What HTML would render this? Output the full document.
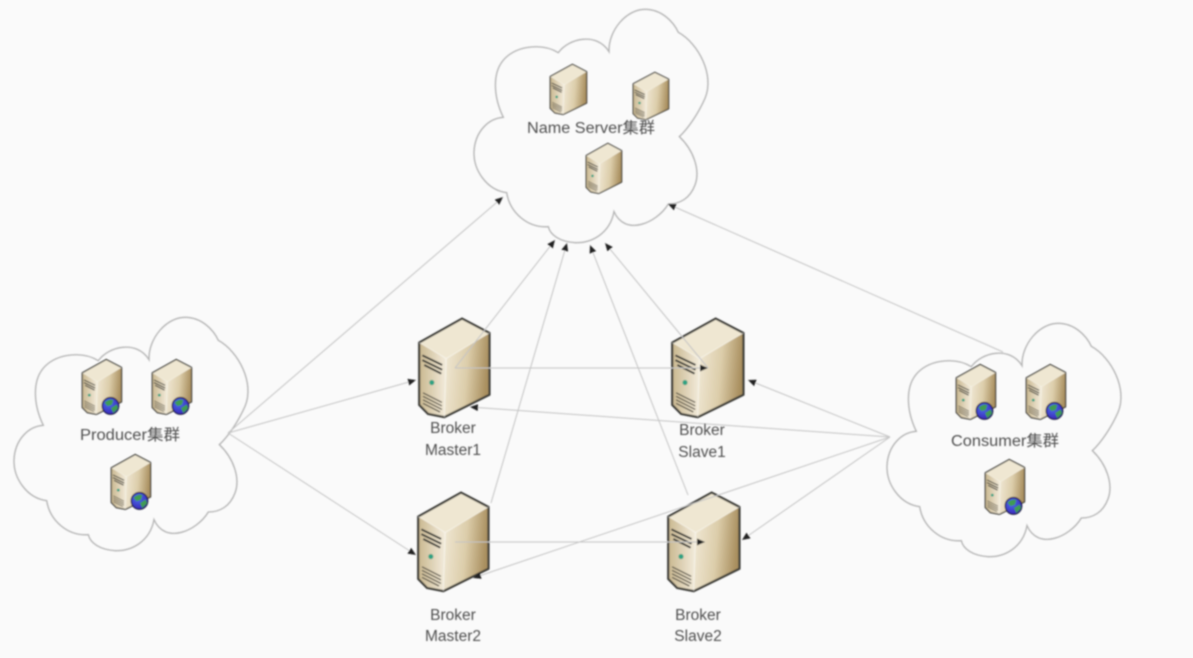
<!DOCTYPE html>
<html><head><meta charset="utf-8"><style>
html,body{margin:0;padding:0;background:#fafafa}
svg{display:block}
text{font-family:"Liberation Sans","Noto Sans CJK SC",sans-serif;font-size:15.5px;fill:#505050;text-anchor:middle}
</style></head><body>
<svg width="1193" height="658" viewBox="0 0 1193 658" xmlns="http://www.w3.org/2000/svg">
<defs>
<filter id="b" x="-5%" y="-5%" width="110%" height="110%"><feGaussianBlur stdDeviation="0.75"/></filter>
<linearGradient id="side" x1="0" y1="0" x2="1" y2="0.15"><stop offset="0" stop-color="#f1ead8"/><stop offset=".55" stop-color="#dccdaa"/><stop offset="1" stop-color="#a98f5f"/></linearGradient>
<linearGradient id="front" x1="0" y1="0" x2="1" y2="0"><stop offset="0" stop-color="#c9b78f"/><stop offset="1" stop-color="#f3ecdc"/></linearGradient>
<marker id="a" markerUnits="userSpaceOnUse" markerWidth="9" markerHeight="8" refX="8" refY="3.5" orient="auto"><path d="M0 0L8 3.5L0 7Z" fill="#222"/></marker>
<radialGradient id="gl" cx=".4" cy=".35" r=".7"><stop offset="0" stop-color="#4a6fe8"/><stop offset="1" stop-color="#3a22b8"/></radialGradient>
<symbol id="cloud" viewBox="0 0 780 750" preserveAspectRatio="none" overflow="visible">
<path d="M130 352C100 290 95 215 135 175C175 135 250 130 295 158C325 115 410 95 447 155C445 90 500 28 555 28C605 28 640 65 655 97C715 130 765 225 735 295C715 340 685 385 658 410C700 450 722 510 705 555C690 595 660 612 625 612C590 670 495 710 462 635C450 700 395 730 345 728C300 725 270 705 265 680C205 685 150 640 140 578C80 570 40 510 42 455C45 395 85 355 130 352Z" fill="none" stroke="#b4b4b4" stroke-width="4"/>
</symbol>
<symbol id="srv" viewBox="45 12 238 325" preserveAspectRatio="none">
<path d="M52 95L188 20L275 65L138 145Z" fill="#efe7d2"/>
<path d="M138 145L275 65V258L132 328Z" fill="url(#side)"/>
<path d="M52 95L138 145L132 328L80 318L52 290Z" fill="url(#front)"/>
<path d="M52 95L188 20L275 65V258L132 328L80 318L52 290Z" fill="none" stroke="#3c3c38" stroke-width="7" stroke-linejoin="round"/>
<path d="M52 95L138 145L275 65M138 145L132 328" fill="none" stroke="#fff" stroke-opacity=".45" stroke-width="3"/>
<path d="M62 135L125 165M62 150L125 180M68 165L122 192" stroke="#3a3a36" stroke-width="6" fill="none"/>
<circle cx="92" cy="220" r="8" fill="#2fa283"/>
<path d="M64 252L124 282M64 263L124 293M64 274L124 304M64 285L118 312" stroke="#5a5548" stroke-width="4" fill="none"/>
</symbol>
<symbol id="srvg" viewBox="45 12 238 325" preserveAspectRatio="none" overflow="visible">
<use href="#srv" x="45" y="12" width="238" height="325"/>
<circle cx="212" cy="280" r="47" fill="url(#gl)" stroke="#1d1d3c" stroke-width="7"/>
<path d="M178 262Q205 238 228 248L220 275L195 282ZM215 292L248 272L254 294L228 320Z" fill="#3f9b52"/>
</symbol>
</defs>
<rect width="1193" height="658" fill="#fafafa"/>
<g filter="url(#b)">
<use href="#cloud" x="460" y="0" width="260" height="250"/>
<use href="#cloud" x="0" y="308" width="260" height="250"/>
<use href="#cloud" x="873" y="314" width="260" height="250"/>

<use href="#srv" x="417" y="316" width="75" height="104"/>
<use href="#srv" x="670" y="316" width="76" height="104"/>
<use href="#srv" x="416" y="490" width="75" height="104"/>
<use href="#srv" x="666" y="490" width="76" height="104"/>
<use href="#srv" x="549" y="63" width="39" height="53"/>
<use href="#srv" x="632" y="71" width="38" height="50"/>
<use href="#srv" x="585" y="142" width="38" height="53"/>
<use href="#srvg" x="81" y="358" width="42" height="58"/>
<use href="#srvg" x="151" y="358" width="42" height="58"/>
<use href="#srvg" x="110" y="453" width="42" height="58"/>
<use href="#srvg" x="955" y="363" width="42" height="58"/>
<use href="#srvg" x="1025" y="363" width="42" height="58"/>
<use href="#srvg" x="984" y="458" width="42" height="58"/>

<g fill="none" stroke="#c4c4c4" stroke-width="1">
<path d="M228 433L503 197" marker-end="url(#a)"/>
<path d="M228 433L416 380" marker-end="url(#a)"/>
<path d="M228 433L416 555" marker-end="url(#a)"/>
<path d="M455 368L555 240" marker-end="url(#a)"/>
<path d="M455 368L708 368" marker-end="url(#a)"/>
<path d="M455 542L705 542" marker-end="url(#a)"/>
<path d="M491 503L567 243" marker-end="url(#a)"/>
<path d="M708 368L605 243" marker-end="url(#a)"/>
<path d="M688 495L590 245" marker-end="url(#a)"/>
<path d="M890 437L748 380" marker-end="url(#a)"/>
<path d="M890 437L470 407" marker-end="url(#a)"/>
<path d="M890 437L473 578" marker-end="url(#a)"/>
<path d="M890 437L742 540" marker-end="url(#a)"/>
<path d="M1003 352L668 204" marker-end="url(#a)"/>
</g>

<text x="591" y="133" textLength="128" lengthAdjust="spacingAndGlyphs">Name Server集群</text>
<text x="130" y="440" textLength="100" lengthAdjust="spacingAndGlyphs">Producer集群</text>
<text x="1005" y="446" textLength="108" lengthAdjust="spacingAndGlyphs">Consumer集群</text>
<text x="453" y="433">Broker</text>
<text x="453" y="455">Master1</text>
<text x="702" y="435">Broker</text>
<text x="702" y="457">Slave1</text>
<text x="453" y="620">Broker</text>
<text x="453" y="641">Master2</text>
<text x="698" y="620">Broker</text>
<text x="698" y="641">Slave2</text>
</g>
</svg>
</body></html>
